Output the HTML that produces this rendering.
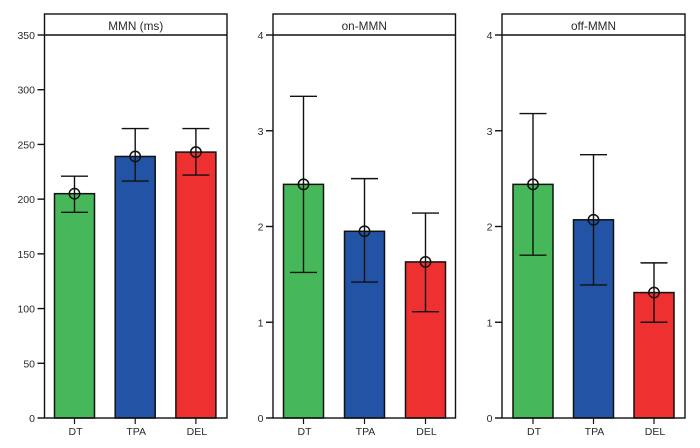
<!DOCTYPE html>
<html>
<head>
<meta charset="utf-8">
<style>
html,body{margin:0;padding:0;background:#fff;width:700px;height:448px;overflow:hidden}
svg{display:block}
text{font-family:"Liberation Sans",sans-serif;font-size:10.5px;fill:#2a2a2a}
</style>
</head>
<body>
<svg id="chart" width="700" height="448" viewBox="0 0 700 448" xmlns="http://www.w3.org/2000/svg"></svg>
<script>
const categories = ['DT', 'TPA', 'DEL'];
const barColors = ['#47b85a', '#2353a4', '#ee3130'];
const mmnMeans = [205, 239, 243];
const mmnUpper = [221, 264.5, 264.5];
const mmnLower = [188, 216.5, 222];
const mmnTicks = [0, 50, 100, 150, 200, 250, 300, 350];
const onMeans = [2.44, 1.95, 1.63];
const onUpper = [3.36, 2.5, 2.14];
const onLower = [1.52, 1.42, 1.11];
const onTicks = [0, 1, 2, 3, 4];
const offMeans = [2.44, 2.07, 1.31];
const offUpper = [3.18, 2.75, 1.62];
const offLower = [1.7, 1.39, 1.0];
const offTicks = [0, 1, 2, 3, 4];

const svg = document.getElementById('chart');
const NS = 'http://www.w3.org/2000/svg';
function add(parent, tag, attrs, text) {
  const el = document.createElementNS(NS, tag);
  for (const k in attrs) el.setAttribute(k, attrs[k]);
  if (text !== undefined) el.textContent = text;
  parent.appendChild(el);
  return el;
}
const top0 = 14, head = 35, base = 418, ink = '#111';

function panel(key, title, left, right, firstCenter, step, maxV, ticks, means, upper, lower) {
  const y = v => base - (v / maxV) * (base - head);
  const x = i => firstCenter + i * step;
  const g = add(svg, 'g', {});
  
  

  means.forEach((m, i) => {
    const bar = add(g, 'rect', {x: x(i) - 20, y: y(m), width: 40, height: base - y(m), fill: barColors[i], stroke: ink, 'stroke-width': 1.5});
    
    

    const err = add(g, 'path', {
      d: 'M' + (x(i) - 13.5) + ' ' + y(upper[i]) + 'H' + (x(i) + 13.5) +
         'M' + x(i) + ' ' + y(upper[i]) + 'V' + y(lower[i]) +
         'M' + (x(i) - 13.5) + ' ' + y(lower[i]) + 'H' + (x(i) + 13.5),
      fill: 'none', stroke: ink, 'stroke-width': 1.4});
    
    

    const dot = add(g, 'circle', {cx: x(i), cy: y(m), r: 5.2, fill: 'none', stroke: ink, 'stroke-width': 1.5});
    
    

    const tick = add(g, 'line', {x1: x(i), x2: x(i), y1: base, y2: base + 6, stroke: ink, 'stroke-width': 1.2});
    
    

    const lab = add(g, 'text', {x: x(i) + 1, y: base + 17, 'text-anchor': 'middle'}, categories[i]);
    
    
  });

  ticks.forEach(t => {
    const tick = add(g, 'line', {x1: left - 7, x2: left, y1: y(t), y2: y(t), stroke: ink, 'stroke-width': 1.4});
    
    

    const lab = add(g, 'text', {x: left - 9.5, y: y(t) + 4, 'text-anchor': 'end'}, String(t));
    
    
  });

  const frame = add(g, 'rect', {x: left, y: top0, width: right - left, height: base - top0, fill: 'none', stroke: ink, 'stroke-width': 1.4});
  
  

  const rule = add(g, 'line', {x1: left, x2: right, y1: head, y2: head, stroke: ink, 'stroke-width': 1.4});
  
  

  const ttl = add(g, 'text', {x: (left + right) / 2, y: 30, 'text-anchor': 'middle', style: 'font-size:11.8px'}, title);
  
  
}

panel('mmn', 'MMN (ms)', 44.5, 227, 74.5, 60.7, 350, mmnTicks, mmnMeans, mmnUpper, mmnLower);
panel('on-mmn', 'on-MMN', 273, 455.5, 303.5, 61, 4, onTicks, onMeans, onUpper, onLower);
panel('off-mmn', 'off-MMN', 502, 685, 533, 60.5, 4, offTicks, offMeans, offUpper, offLower);
</script>
</body>
</html>
